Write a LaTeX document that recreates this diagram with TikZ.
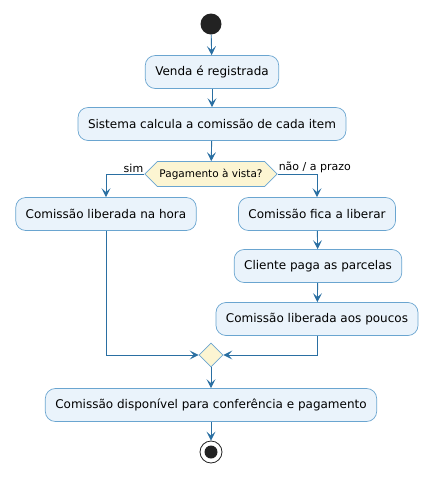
\documentclass[tikz,border=0pt]{standalone}
\usepackage{fontspec}
\setmainfont{DejaVu Sans}
\usetikzlibrary{arrows.meta,shapes.geometric,shapes.symbols}

\definecolor{actfill}{HTML}{EAF3FB}
\definecolor{actline}{HTML}{6AA5D0}
\definecolor{flowblue}{HTML}{2A6FA2}
\definecolor{decfill}{HTML}{FCF5D2}
\definecolor{dotgray}{HTML}{222222}

\newcommand{\actn}{\node[act]}
\newcommand{\decn}{\node[dec]}

\tikzset{
    act/.style={rectangle, rounded corners=10pt, draw=actline, fill=actfill, line width=0.7pt,
        minimum height=33pt, inner xsep=10pt, font=\fontsize{12}{14}\selectfont},
    dec/.style={signal, signal to=west and east, draw=actline, fill=decfill, line width=0.7pt,
        minimum height=25pt, inner xsep=2pt, font=\fontsize{10.5}{12}\selectfont},
    merge/.style={diamond, draw=actline, fill=decfill, line width=0.7pt,
        minimum size=24pt, inner sep=0pt},
    flow/.style={draw=flowblue, line width=0.9pt,
        -{Stealth[length=9pt,width=9pt,inset=4pt]}},
    lbl/.style={font=\fontsize{11}{13}\selectfont, inner sep=1pt}
}

\begin{document}
\begin{tikzpicture}[x=1pt, y=-1pt]
    \useasboundingbox (0,0) rectangle (437,483);

    \node[circle, fill=dotgray, minimum size=21pt, inner sep=0pt] (start) at (211,24) {};
    \actn (venda) at (212,72) {Venda é registrada};
    \actn (calc) at (212,124) {Sistema calcula a comissão de cada item};
    \decn (pag) at (211,174) {Pagamento à vista?};
    \actn (hora) at (106,214) {Comissão liberada na hora};
    \actn (fica) at (317,214) {Comissão fica a liberar};
    \actn (parc) at (318,266) {Cliente paga as parcelas};
    \actn (poucos) at (317,319) {Comissão liberada aos poucos};
    \node[merge] (junta) at (211,355) {};
    \actn (disp) at (211,405) {Comissão disponível para conferência e pagamento};
    \node[circle, draw=dotgray, line width=0.8pt, minimum size=22pt, inner sep=0pt] (fim) at (211,452) {};
    \node[circle, fill=dotgray, minimum size=13pt, inner sep=0pt] at (fim) {};

    \draw[flow]
        (start) -- (venda);
    \draw[flow]
        (venda) -- (calc);
    \draw[flow]
        (calc) -- (pag);

    \draw[flow] (pag.west) -| (hora.north);
    \draw[flow] (pag.east) -| (fica.north);
    \node[lbl, anchor=south east] at (pag.west) {sim};
    \node[lbl, anchor=south west] at (pag.east) {não / a prazo};

    \draw[flow]
        (fica) -- (parc);
    \draw[flow]
        (parc) -- (poucos);

    \draw[flow] (hora.south) |- (junta.west);
    \draw[flow] (poucos.south) |- (junta.east);

    \draw[flow]
        (junta) -- (disp);
    \draw[flow]
        (disp) -- (fim);
\end{tikzpicture}
\end{document}
